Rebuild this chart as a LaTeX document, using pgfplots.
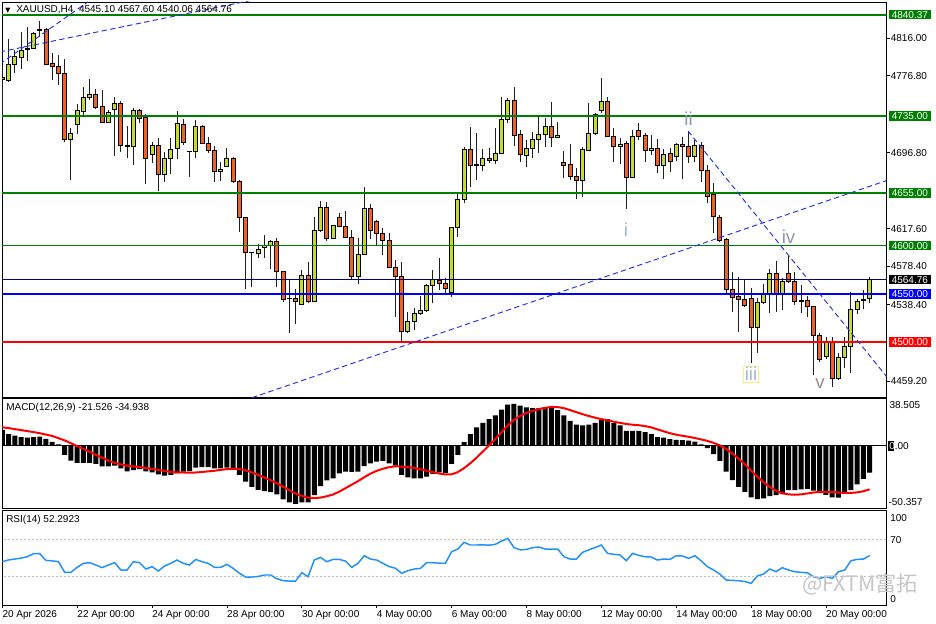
\documentclass[border=0pt]{standalone}
\usepackage{fontspec}
\setmainfont{Liberation Sans}
\newfontfamily\dejavu{DejaVu Sans}
\newfontfamily\cjk{Noto Sans CJK SC}
\usepackage{pgfplots}
\usepackage{pgfplotstable}
\pgfplotsset{compat=1.18}

\definecolor{bullc}{RGB}{198,216,56}
\definecolor{bearc}{RGB}{238,98,36}
\definecolor{lvgreen}{RGB}{0,128,0}
\definecolor{navyl}{RGB}{0,0,128}
\definecolor{rsiblue}{RGB}{30,144,255}
\definecolor{wickc}{RGB}{30,30,30}
\definecolor{trend}{RGB}{30,50,235}
\definecolor{wave}{RGB}{140,152,172}
\definecolor{wavelight}{RGB}{160,184,220}

\newcommand{\lbl}{\fontsize{7.5}{9}\selectfont}

\pgfplotstableread{
i o h l c
0 4775.2 4788.0 4736.0 4773.1
1 4771.7 4815.1 4770.7 4789.1
2 4789.1 4803.6 4780.0 4796.4
3 4796.0 4822.0 4783.9 4802.9
4 4804.3 4827.2 4792.5 4805.4
5 4805.4 4822.7 4804.3 4821.0
6 4823.8 4834.2 4817.5 4824.5
7 4824.5 4826.2 4788.0 4788.7
8 4789.7 4800.2 4772.4 4786.3
9 4786.6 4798.4 4767.2 4779.4
10 4779.4 4794.3 4708.2 4710.7
11 4710.7 4722.1 4668.4 4716.9
12 4726.3 4747.4 4715.9 4740.2
13 4739.8 4765.5 4736.0 4754.7
14 4754.7 4773.1 4751.6 4757.5
15 4757.5 4762.7 4741.9 4743.6
16 4744.7 4762.0 4728.0 4728.7
17 4728.7 4741.2 4728.0 4738.4
18 4741.9 4754.4 4693.7 4748.1
19 4748.1 4750.9 4697.8 4704.1
20 4704.8 4724.5 4690.9 4703.0
21 4703.0 4743.6 4684.0 4740.2
22 4740.2 4742.2 4727.3 4732.5
23 4733.2 4737.0 4663.8 4690.9
24 4695.4 4708.2 4686.4 4704.8
25 4704.8 4711.7 4657.3 4674.2
26 4674.2 4697.8 4666.6 4690.9
27 4690.9 4712.4 4674.2 4700.6
28 4701.3 4740.5 4689.9 4727.3
29 4726.3 4731.8 4704.8 4707.2
30 4698.2 4698.5 4671.8 4697.8
31 4697.8 4730.8 4690.9 4724.5
32 4724.5 4725.6 4705.8 4706.5
33 4706.5 4713.4 4696.8 4699.6
34 4699.6 4704.1 4666.6 4677.0
35 4677.0 4686.7 4667.3 4679.4
36 4682.2 4701.3 4681.5 4690.9
37 4690.9 4692.6 4665.6 4666.6
38 4666.6 4668.4 4614.6 4629.5
39 4629.5 4630.2 4554.6 4593.1
40 4592.7 4593.8 4556.7 4593.1
41 4592.0 4601.4 4586.8 4596.2
42 4598.3 4611.1 4586.8 4600.0
43 4600.0 4605.9 4575.4 4604.9
44 4604.9 4608.3 4556.7 4573.0
45 4573.0 4574.0 4541.0 4544.5
46 4545.2 4565.0 4509.5 4544.9
47 4545.2 4554.6 4518.5 4541.7
48 4538.9 4574.7 4538.3 4569.5
49 4569.5 4582.7 4540.0 4541.7
50 4541.7 4629.5 4541.0 4616.3
51 4616.3 4646.8 4614.6 4639.9
52 4639.9 4645.8 4605.2 4607.6
53 4607.6 4621.5 4606.6 4620.8
54 4629.2 4634.4 4619.1 4619.8
55 4620.5 4636.4 4608.0 4608.7
56 4608.7 4616.3 4565.0 4567.7
57 4568.4 4607.6 4560.1 4591.3
58 4591.3 4661.4 4590.3 4638.9
59 4638.9 4643.4 4606.6 4616.3
60 4625.7 4626.7 4600.7 4612.9
61 4612.9 4618.0 4590.3 4605.2
62 4605.9 4612.9 4576.4 4577.5
63 4577.5 4585.1 4526.1 4568.4
64 4568.4 4583.4 4501.2 4510.5
65 4510.5 4531.3 4509.5 4520.9
66 4520.9 4534.8 4512.3 4529.6
67 4529.6 4547.6 4527.9 4533.1
68 4533.1 4559.8 4531.3 4559.1
69 4559.1 4574.7 4540.0 4565.0
70 4564.3 4587.5 4553.9 4560.8
71 4560.8 4566.0 4550.4 4555.6
72 4551.5 4619.8 4546.9 4618.7
73 4618.7 4653.4 4609.4 4648.2
74 4648.2 4703.0 4644.1 4700.3
75 4700.3 4723.2 4660.7 4684.0
76 4684.3 4717.6 4668.4 4684.0
77 4684.0 4700.6 4678.1 4690.9
78 4690.6 4701.3 4685.7 4689.2
79 4689.2 4722.1 4685.0 4696.1
80 4696.1 4754.4 4695.4 4731.8
81 4731.8 4753.3 4727.3 4750.9
82 4750.9 4765.5 4704.1 4715.2
83 4715.9 4720.4 4687.4 4695.4
84 4694.4 4710.0 4681.5 4701.3
85 4701.3 4718.7 4690.9 4710.7
86 4710.7 4734.9 4696.8 4715.9
87 4715.9 4732.5 4703.0 4724.5
88 4723.8 4749.9 4702.3 4712.4
89 4712.8 4729.1 4712.4 4715.2
90 4686.7 4698.9 4670.1 4683.3
91 4684.7 4705.8 4668.4 4672.5
92 4672.5 4680.5 4648.2 4667.6
93 4667.6 4702.3 4651.0 4700.6
94 4699.6 4748.1 4698.9 4716.9
95 4716.9 4738.4 4715.2 4737.0
96 4741.2 4774.2 4737.7 4749.9
97 4749.9 4755.1 4713.4 4714.1
98 4714.1 4722.1 4687.4 4703.0
99 4703.7 4711.7 4684.7 4705.4
100 4706.5 4709.3 4637.8 4671.1
101 4671.1 4720.4 4670.1 4713.4
102 4719.7 4727.3 4710.0 4714.1
103 4715.2 4717.6 4687.4 4699.6
104 4699.6 4715.2 4694.4 4701.3
105 4701.3 4710.7 4676.0 4684.0
106 4684.0 4700.3 4669.4 4695.4
107 4696.1 4701.3 4677.0 4688.1
108 4693.3 4706.5 4688.5 4705.5
109 4705.5 4713.4 4669.0 4703.0
110 4703.0 4719.3 4686.4 4693.3
111 4693.3 4710.0 4687.4 4704.8
112 4704.8 4708.2 4666.6 4678.8
113 4678.8 4684.0 4644.1 4651.0
114 4653.4 4665.6 4613.5 4630.2
115 4629.5 4631.9 4604.2 4605.9
116 4606.6 4607.6 4550.4 4554.6
117 4554.6 4573.0 4531.3 4546.2
118 4546.9 4567.1 4510.5 4544.5
119 4544.2 4564.3 4536.5 4537.6
120 4545.2 4555.6 4478.2 4515.1
121 4515.1 4545.2 4488.7 4540.7
122 4540.7 4560.1 4539.3 4549.4
123 4550.4 4575.4 4529.6 4571.2
124 4571.2 4584.4 4531.3 4550.4
125 4550.4 4566.0 4533.1 4563.2
126 4571.2 4589.3 4561.5 4563.2
127 4562.5 4573.0 4538.3 4541.7
128 4542.8 4559.1 4530.3 4542.4
129 4543.5 4547.6 4526.1 4537.2
130 4536.5 4537.2 4465.4 4507.1
131 4507.1 4509.5 4479.3 4481.7
132 4485.2 4505.3 4481.7 4500.1
133 4500.1 4504.6 4452.6 4461.9
134 4461.9 4488.0 4460.2 4483.8
135 4483.8 4504.6 4472.4 4495.6
136 4495.6 4552.2 4467.2 4533.8
137 4533.8 4544.2 4528.9 4541.7
138 4543.5 4553.9 4533.8 4544.5
139 4545.10 4567.60 4540.06 4564.76
}\candles

\pgfplotstableread{
i m s
0 12.9 15.0
1 9.4 14.3
2 8.3 13.5
3 7.0 12.7
4 6.7 11.9
5 7.0 11.1
6 7.5 10.2
7 5.7 9.1
8 3.2 8.0
9 1.3 6.2
10 -7.3 4.4
11 -11.8 2.1
12 -13.7 -0.2
13 -13.7 -2.4
14 -13.7 -4.7
15 -14.5 -7.2
16 -16.4 -9.6
17 -16.4 -11.8
18 -15.9 -13.7
19 -18.0 -14.9
20 -20.5 -15.9
21 -19.4 -16.5
22 -18.6 -17.0
23 -20.5 -17.8
24 -21.3 -18.6
25 -22.9 -19.3
26 -24.0 -20.1
27 -23.4 -21.0
28 -22.1 -21.4
29 -20.7 -21.4
30 -20.2 -21.5
31 -17.5 -21.4
32 -17.0 -21.0
33 -17.0 -20.5
34 -18.0 -20.0
35 -18.0 -19.3
36 -17.5 -18.7
37 -19.1 -18.3
38 -23.4 -18.6
39 -28.8 -19.6
40 -32.9 -21.3
41 -35.3 -23.3
42 -36.4 -25.5
43 -37.2 -27.6
44 -39.0 -30.0
45 -43.1 -32.8
46 -45.5 -35.7
47 -46.6 -38.3
48 -45.5 -40.2
49 -45.5 -41.6
50 -39.6 -42.0
51 -32.3 -41.6
52 -27.7 -40.5
53 -26.1 -39.1
54 -22.1 -36.8
55 -20.7 -34.0
56 -21.0 -31.2
57 -20.7 -28.4
58 -16.2 -25.2
59 -14.0 -22.3
60 -12.7 -20.1
61 -12.1 -18.4
62 -14.0 -17.1
63 -15.9 -16.4
64 -23.4 -16.7
65 -25.3 -17.1
66 -26.1 -17.7
67 -26.1 -18.8
68 -24.8 -20.0
69 -22.6 -21.1
70 -21.3 -22.2
71 -21.8 -23.0
72 -14.5 -22.9
73 -7.3 -21.1
74 3.0 -17.9
75 9.4 -14.0
76 14.8 -9.5
77 18.6 -4.6
78 21.5 0.3
79 24.5 5.4
80 29.1 11.0
81 33.1 16.3
82 33.7 20.9
83 32.3 24.1
84 31.0 26.5
85 30.4 28.2
86 30.4 29.6
87 31.0 30.6
88 30.4 31.3
89 28.8 31.2
90 24.5 30.3
91 20.2 28.8
92 17.0 27.1
93 16.4 25.5
94 17.0 24.0
95 18.6 22.7
96 21.0 21.5
97 21.5 20.6
98 18.3 19.4
99 16.4 18.5
100 12.1 17.6
101 12.1 17.0
102 12.1 16.6
103 11.0 15.9
104 9.4 14.9
105 7.0 13.3
106 6.7 11.7
107 5.4 10.2
108 4.8 9.0
109 4.6 8.1
110 4.3 7.3
111 3.5 6.3
112 1.3 5.2
113 -1.9 4.0
114 -6.7 2.4
115 -12.1 0.4
116 -20.7 -2.5
117 -27.5 -6.1
118 -32.9 -10.3
119 -36.9 -14.9
120 -41.5 -19.9
121 -42.8 -24.8
122 -42.3 -29.3
123 -40.4 -33.0
124 -39.6 -36.1
125 -38.8 -38.1
126 -35.5 -39.0
127 -35.5 -39.3
128 -35.0 -39.0
129 -34.5 -38.3
130 -36.0 -37.5
131 -38.0 -37.0
132 -39.5 -36.9
133 -41.5 -37.1
134 -41.7 -37.5
135 -38.5 -37.8
136 -35.5 -37.8
137 -31.0 -37.4
138 -26.5 -36.5
139 -21.526 -34.938
}\macd

\pgfplotstableread{
i r
0 45.6
1 47.5
2 48.5
3 49.5
4 51.0
5 54.3
6 54.3
7 47.0
8 46.5
9 45.6
10 34.0
11 34.0
12 39.5
13 43.8
14 44.5
15 42.0
16 39.1
17 42.0
18 44.5
19 36.5
20 36.5
21 45.6
22 44.5
23 37.6
24 40.2
25 35.4
26 40.9
27 43.8
28 47.4
29 43.8
30 42.0
31 48.1
32 45.6
33 43.8
34 39.4
35 39.4
36 42.7
37 38.3
38 33.0
39 28.9
40 28.9
41 29.5
42 31.1
43 31.1
44 27.0
45 24.9
46 24.5
47 24.5
48 33.6
49 29.3
50 47.4
51 50.3
52 45.6
53 48.1
54 48.1
55 46.3
56 39.4
57 43.8
58 52.1
59 48.5
60 47.4
61 43.8
62 40.2
63 38.5
64 32.9
65 35.8
66 37.6
67 38.3
68 44.5
69 44.5
70 44.0
71 43.8
72 56.5
73 59.4
74 66.7
75 63.8
76 63.8
77 64.0
78 63.6
79 64.5
80 68.0
81 71.0
82 61.0
83 58.5
84 59.0
85 60.9
86 61.6
87 59.4
88 59.4
89 59.4
90 51.0
91 48.5
92 48.5
93 55.8
94 58.5
95 61.0
96 63.8
97 54.7
98 53.6
99 52.9
100 46.7
101 54.7
102 52.5
103 51.0
104 50.7
105 47.4
106 48.5
107 48.1
108 52.1
109 51.8
110 49.2
111 52.1
112 46.5
113 40.2
114 36.5
115 32.0
116 25.6
117 25.2
118 24.9
119 24.0
120 22.0
121 30.0
122 32.2
123 37.6
124 34.7
125 39.1
126 36.5
127 34.7
128 34.0
129 33.6
130 29.3
131 27.4
132 29.3
133 27.4
134 34.7
135 36.5
136 46.7
137 48.1
138 48.5
139 52.2923
}\rsi

\pgfplotsset{
  paneaxis/.style={
    scale only axis, width=663.375pt,
    xmin=-0.05, xmax=141.7,
    axis line style={black, line width=0.6pt},
    tick style={black, line width=0.6pt},
    ticklabel style={font=\lbl},
    axis background/.style={fill=white},
  }
}

\begin{document}
\begin{tikzpicture}
\path[use as bounding box] (0,0) rectangle (702pt,-468pt);
\fill[white] (0,0) rectangle (702pt,-468pt);

% ---------------- main price pane ----------------
\begin{axis}[paneaxis,
  at={(1.5pt,-1.5pt)}, anchor=north west, height=296.25pt,
  ymin=4442.55, ymax=4853.59,
  xtick=\empty,
  ytick={4459.2,4538.4,4578.4,4617.6,4696.8,4776.8,4816.0},
  ytick pos=right, yticklabel pos=right,
  tick align=outside, major tick length=2.25pt,
  yticklabel style={anchor=west, inner sep=0pt, xshift=0.8pt},
  yticklabel={\pgfmathprintnumber[fixed,fixed zerofill,precision=2,1000 sep={},assume math mode=true]{\tick}},
]
\pgfplotsinvokeforeach{0,...,139}{
  \pgfplotstablegetelem{#1}{o}\of\candles \let\vo\pgfplotsretval
  \pgfplotstablegetelem{#1}{h}\of\candles \let\vh\pgfplotsretval
  \pgfplotstablegetelem{#1}{l}\of\candles \let\vl\pgfplotsretval
  \pgfplotstablegetelem{#1}{c}\of\candles \let\vc\pgfplotsretval
  \pgfmathsetmacro\xa{#1-0.32}
  \pgfmathsetmacro\xb{#1+0.32}
  \ifdim\vc pt<\vo pt \def\fc{bearc}\else\def\fc{bullc}\fi
  \edef\tmp{%
    \noexpand\addplot[forget plot, draw=wickc, line width=0.7pt] coordinates {(#1,\vl) (#1,\vh)};
    \noexpand\addplot[forget plot, fill=\fc, draw=black, line width=0.7pt] coordinates {(\xa,\vo) (\xb,\vo) (\xb,\vc) (\xa,\vc)} -- cycle;
  }\tmp
}
% horizontal levels
\addplot[lvgreen, line width=1.3pt] coordinates {(-1,4840.37) (143,4840.37)};
\addplot[lvgreen, line width=1.1pt] coordinates {(-1,4735) (143,4735)};
\addplot[lvgreen, line width=1.1pt] coordinates {(-1,4655) (143,4655)};
\addplot[lvgreen, line width=1.1pt] coordinates {(-1,4600) (143,4600)};
\addplot[navyl, line width=0.75pt] coordinates {(-1,4564.76) (143,4564.76)};
\addplot[blue, line width=1.6pt] coordinates {(-1,4550) (143,4550)};
\addplot[red, line width=1.1pt] coordinates {(-1,4500) (143,4500)};
% trend lines
\addplot[trend, line width=0.7pt, dash pattern=on 4pt off 2.5pt] coordinates {(-0.4,4801.6) (40.2,4855.7)};
\addplot[trend, line width=0.7pt, dash pattern=on 4pt off 2.5pt] coordinates {(-0.4,4789.1) (13.7,4853.6)};
\addplot[trend, line width=0.7pt, dash pattern=on 4pt off 2.5pt] coordinates {(40.0,4441.8) (141.7,4667.8)};
\addplot[trend, line width=0.7pt, dash pattern=on 4pt off 2.5pt] coordinates {(109.9,4719.3) (141.7,4463.9)};
\end{axis}

% ---------------- MACD pane ----------------
\begin{axis}[paneaxis,
  at={(1.5pt,-298.5pt)}, anchor=north west, height=82.875pt,
  ymin=-50.357, ymax=38.505,
  xtick=\empty, ytick=\empty,
]
\addplot[ybar, bar width=0.8, fill=black, draw=none] table[x=i,y=m]{\macd};
\addplot[black, line width=0.6pt] coordinates {(-1,0) (143,0)};
\addplot[red, line width=1.5pt] table[x=i,y=s]{\macd};
\end{axis}

% ---------------- RSI pane ----------------
\begin{axis}[paneaxis,
  at={(1.5pt,-382.875pt)}, anchor=north west, height=70.875pt,
  ymin=-1.6, ymax=101.4,
  ytick=\empty,
  xtick={0,12,24,36,48,60,72,84,96,108,120,132},
  xticklabels={20 Apr 2026,22 Apr 00:00,24 Apr 00:00,28 Apr 00:00,30 Apr 00:00,4 May 00:00,6 May 00:00,8 May 00:00,12 May 00:00,14 May 00:00,18 May 00:00,20 May 00:00},
  xtick pos=left, tick align=outside, major tick length=2.25pt,
  xticklabel style={anchor=north west, inner sep=0pt, yshift=-2pt},
]
\addplot[black!25, line width=0.5pt, dash pattern=on 1.5pt off 1.5pt] coordinates {(-1,70) (143,70)};
\addplot[black!25, line width=0.5pt, dash pattern=on 1.5pt off 1.5pt] coordinates {(-1,30) (143,30)};
\addplot[rsiblue, line width=1.1pt] table[x=i,y=r]{\rsi};
\end{axis}

% ---------------- texts (pixel coordinates) ----------------
\begin{scope}[x=0.75pt,y=-0.75pt]
\node[anchor=base west, inner sep=0] at (5,12.7) {{\dejavu\fontsize{5}{6}\selectfont ▼}};
\node[anchor=base west, inner sep=0] at (16,12.7) {\lbl XAUUSD,H4\ \ 4545.10 4567.60 4540.06 4564.76};
\node[anchor=base west, inner sep=0] at (6,410.3) {\lbl MACD(12,26,9) -21.526 -34.938};
\node[anchor=base west, inner sep=0] at (6,522.7) {\lbl RSI(14) 52.2923};

% right price boxes
\foreach \yy/\txt/\col in {14.7/4840.37/lvgreen, 116.0/4735.00/lvgreen, 192.8/4655.00/lvgreen, 245.7/4600.00/lvgreen, 279.6/4564.76/black, 293.8/4550.00/blue, 341.9/4500.00/red}{
  \node[anchor=west, fill=\col, text=white, inner xsep=2.4pt, inner ysep=0pt, minimum height=7.1pt, font=\lbl] at (888.3,\yy) {\txt};
}
% MACD scale labels
\node[anchor=base west, inner sep=0] at (889.3,408.3) {\lbl 38.505};
\fill[black] (888.3,441) rectangle (894.3,451);
\node[anchor=base west, inner sep=0] at (889,449.5) {\lbl {\color{white}0}.00};
\node[anchor=base west, inner sep=0] at (888.3,505.7) {\lbl -50.357};
% RSI scale labels
\node[anchor=base west, inner sep=0] at (890,521) {\lbl 100};
\node[anchor=base west, inner sep=0] at (890,543.3) {\lbl 70};
\node[anchor=base west, inner sep=0] at (890,602.3) {\lbl 0};

% wave labels
\node[text=wavelight, font=\fontsize{14}{16}\selectfont] at (626,229.5) {i};
\node[text=wave, font=\fontsize{14}{16}\selectfont] at (688.5,118.5) {ii};
\node[text=wavelight, draw={rgb,255:red,250;green,240;blue,130}, line width=0.6pt, inner sep=1pt, font=\fontsize{14}{16}\selectfont] at (751,374) {iii};
\node[text=wave, font=\fontsize{14}{16}\selectfont] at (788.5,237) {iv};
\node[text={rgb,255:red,150;green,140;blue,140}, font=\fontsize{14}{16}\selectfont] at (820,384) {v};

% watermark
\node[anchor=base west, inner sep=0, text=black!22, font=\cjk\fontsize{16}{18}\selectfont] at (802,591) {@FXTM富拓};
\end{scope}
\end{tikzpicture}
\end{document}
